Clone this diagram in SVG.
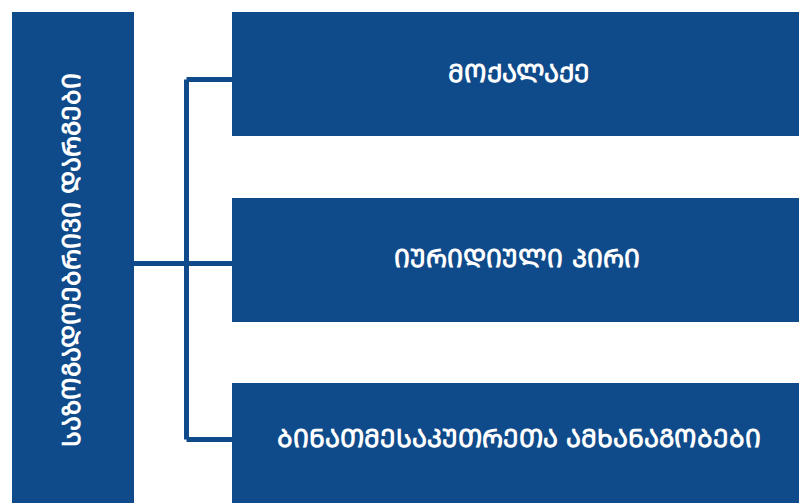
<svg xmlns="http://www.w3.org/2000/svg" width="799" height="503" viewBox="0 0 799 503">
<style>
.box{fill:#0F4A8A}
.lbl{fill:#ffffff;font-family:"DejaVu Sans","Noto Sans",sans-serif;font-size:25px;font-weight:bold;text-anchor:middle}
.conn{fill:none;stroke:#0F4A8A;stroke-width:5}
</style>
<rect width="799" height="503" fill="#ffffff"/>
<g id="connectors">
<path class="conn" d="M134 263.5H232M186.5 79.5V439.5M186.5 79.5H232M186.5 439.5H232"/>
</g>
<g id="node-root">
<rect class="box" x="12" y="12" width="122" height="491"/>
<text class="lbl" transform="translate(80 260) rotate(-90)">ᲡᲐᲖᲝᲒᲐᲓᲝᲔᲑᲠᲘᲕᲘ ᲓᲐᲠᲒᲔᲑᲘ</text>
</g>
<g id="node-1">
<rect class="box" x="232" y="12" width="567" height="124"/>
<text class="lbl" x="519" y="81.5">ᲛᲝᲥᲐᲚᲐᲥᲔ</text>
</g>
<g id="node-2">
<rect class="box" x="232" y="198" width="567" height="124"/>
<text class="lbl" x="517" y="266.5">ᲘᲣᲠᲘᲓᲘᲣᲚᲘ ᲞᲘᲠᲘ</text>
</g>
<g id="node-3">
<rect class="box" x="232" y="383" width="567" height="120"/>
<text class="lbl" x="519" y="446.5">ᲑᲘᲜᲐᲗᲛᲔᲡᲐᲙᲣᲗᲠᲔᲗᲐ ᲐᲛᲮᲐᲜᲐᲒᲝᲑᲔᲑᲘ</text>
</g>
</svg>
